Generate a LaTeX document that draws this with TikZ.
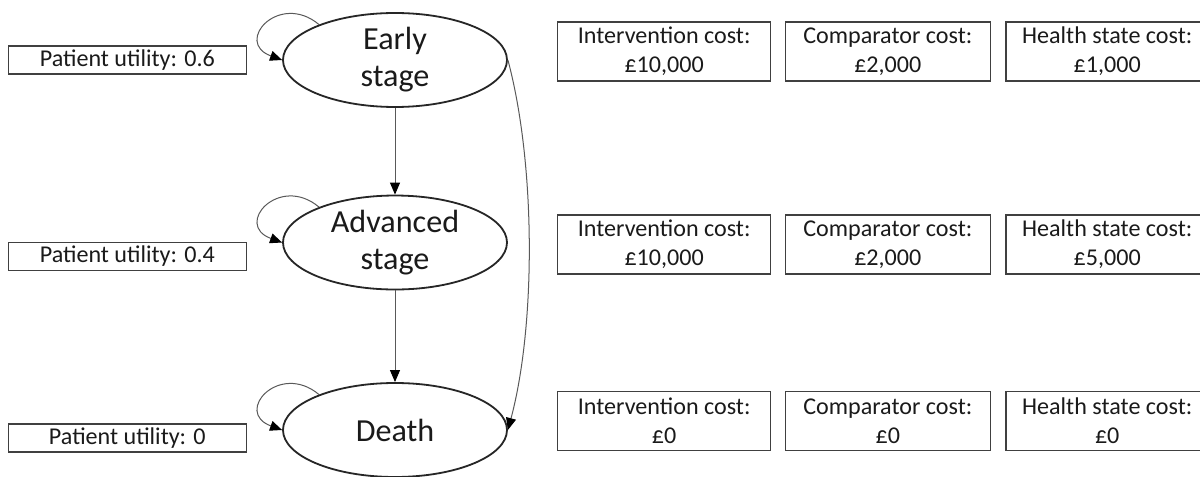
\documentclass[tikz,border=0pt]{standalone}
\usepackage{fontspec}
\setmainfont{Carlito}
\usepackage{tikz}
\usetikzlibrary{arrows.meta, positioning, shapes.geometric}
\definecolor{edgegray}{HTML}{262626}
\definecolor{boxgray}{HTML}{404040}
\definecolor{linkgray}{HTML}{595959}
\definecolor{darktext}{HTML}{1A1A1A}

\begin{document}
\begin{tikzpicture}[
    >={Triangle[length=6pt, width=5pt, color=black]},
    state/.style={
      ellipse, draw=edgegray, line width=0.9pt,
      minimum width=3.92cm, minimum height=1.645cm, inner sep=0pt,
      align=center, text=darktext, font=\fontsize{16}{18.5}\selectfont
    },
    utilbox/.style={
      draw=boxgray, line width=0.75pt, inner sep=0pt,
      minimum width=4.165cm, minimum height=0.49cm,
      text=darktext, font=\fontsize{12}{14.5}\selectfont
    },
    costbox/.style={
      draw=boxgray, line width=0.75pt, inner sep=0pt,
      minimum height=1.0325cm, align=center,
      text=darktext, font=\fontsize{12}{14.5}\selectfont
    },
    link/.style={->, draw=linkgray, line width=0.5pt}
  ]

  \useasboundingbox (0,0) rectangle (21,-8.3475);

  % health states
  \node[state] (early) at (6.9125,-1.05) {Early\\stage};
  \node[state, on grid, below=3.194cm of early] (adv) {Advanced\\stage};
  \node[state, on grid, below=3.281cm of adv] (death) {Death};

  % utilities
  \node[utilbox, left=0.6125cm of early] (uearly) {Patient utility: 0.6};
  \node[utilbox, left=0.6125cm of adv, yshift=-0.245cm] (uadv) {Patient utility: 0.4};
  \node[utilbox, left=0.6125cm of death, yshift=-0.14cm] (udeath) {Patient utility: 0};

  % costs
  \node[costbox, minimum width=3.7275cm, right=0.8575cm of early, yshift=0.149cm] (iearly)
    {Intervention cost:\\£10,000};
  \node[costbox, minimum width=3.5875cm, right=0.23cm of iearly] (cearly)
    {Comparator cost:\\£2,000};
  \node[costbox, minimum width=3.55cm, right=0.245cm of cearly] (hearly)
    {Health state cost:\\£1,000};

  \node[costbox, minimum width=3.7275cm, right=0.8575cm of adv, yshift=-0.035cm] (iadv)
    {Intervention cost:\\£10,000};
  \node[costbox, minimum width=3.5875cm, right=0.23cm of iadv] (cadv)
    {Comparator cost:\\£2,000};
  \node[costbox, minimum width=3.55cm, right=0.245cm of cadv] (hadv)
    {Health state cost:\\£5,000};

  \node[costbox, minimum width=3.7275cm, right=0.8575cm of death, yshift=0.1575cm] (ideath)
    {Intervention cost:\\£0};
  \node[costbox, minimum width=3.5875cm, right=0.23cm of ideath] (cdeath)
    {Comparator cost:\\£0};
  \node[costbox, minimum width=3.55cm, right=0.245cm of cdeath] (hdeath)
    {Health state cost:\\£0};

  % transitions
  \draw[link] (early.155) to[out=140, in=160, looseness=2.6] (early.west);
  \draw[link] (adv.155) to[out=140, in=160, looseness=2.6] (adv.west);
  \draw[link] (death.155) to[out=140, in=160, looseness=2.6] (death.west);
  \draw[link] (early) -- (adv);
  \draw[link] (adv) -- (death);
  \draw[link] (early.east) to[out=-75, in=75, looseness=0.75] (death.east);

\end{tikzpicture}
\end{document}
